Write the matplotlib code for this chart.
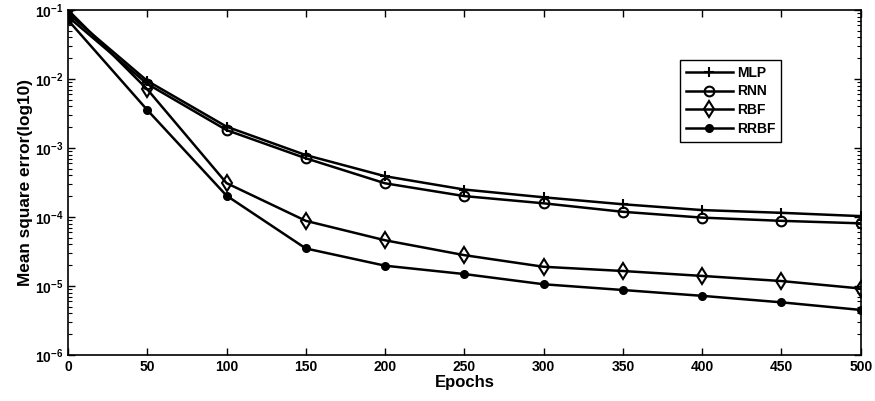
import matplotlib

matplotlib.use("Agg")
import matplotlib.pyplot as plt
from matplotlib import font_manager

# drop the condensed variants so "Liberation Sans" resolves to the regular width
font_manager.fontManager.ttflist = [
    f for f in font_manager.fontManager.ttflist if "Narrow" not in f.fname
]

plt.rcParams["font.family"] = ["Liberation Sans", "DejaVu Sans"]
plt.rcParams["font.weight"] = "bold"
plt.rcParams["mathtext.fontset"] = "custom"
plt.rcParams["mathtext.rm"] = "Liberation Sans:bold"
plt.rcParams["mathtext.default"] = "rm"

epochs = [0, 50, 100, 150, 200, 250, 300, 350, 400, 450, 500]
mlp = [0.089, 9.4e-3, 2.04e-3, 7.9e-4, 3.9e-4, 2.5e-4, 1.93e-4, 1.53e-4, 1.26e-4, 1.15e-4, 1.03e-4]
rnn = [0.080, 8.5e-3, 1.82e-3, 7.1e-4, 3.08e-4, 2.01e-4, 1.58e-4, 1.19e-4, 9.8e-5, 8.8e-5, 8.1e-5]
rbf = [0.100, 7.1e-3, 3.1e-4, 8.8e-5, 4.6e-5, 2.8e-5, 1.9e-5, 1.65e-5, 1.4e-5, 1.18e-5, 9.2e-6]
rrbf = [0.0716, 3.56e-3, 2.04e-4, 3.5e-5, 1.97e-5, 1.49e-5, 1.06e-5, 8.75e-6, 7.2e-6, 5.8e-6, 4.5e-6]

fig = plt.figure(figsize=(8.75, 4.01), dpi=100)
ax = fig.add_axes([0.0777, 0.1147, 0.906, 0.8603])

style = dict(color="black", linewidth=1.8, markeredgewidth=1.5)
ax.semilogy(epochs, mlp, marker="+", markersize=7, label="MLP", **style)
ax.semilogy(epochs, rnn, marker="o", markersize=7, markerfacecolor="none", label="RNN", **style)
ax.semilogy(epochs, rbf, marker="d", markersize=8, markerfacecolor="none", label="RBF", **style)
ax.semilogy(epochs, rrbf, marker="o", markersize=5, label="RRBF", **style)

ax.set_xlim(0, 500)
ax.set_ylim(1e-6, 1e-1)
ax.set_xticks(epochs)
ax.tick_params(which="both", direction="in", top=True, right=True, labelsize=10)
ax.tick_params(which="major", length=5, width=1)
ax.tick_params(which="minor", length=3, width=0.8)
for spine in ax.spines.values():
    spine.set_linewidth(1.2)

ax.set_xlabel("Epochs", fontsize=12, fontweight="bold", labelpad=1)
ax.set_ylabel("Mean square error(log10)", fontsize=12.4, fontweight="bold", labelpad=1)

leg = ax.legend(loc="upper left", bbox_to_anchor=(0.772, 0.855), fancybox=False,
                framealpha=1, edgecolor="black", fontsize=10, handlelength=3.4,
                borderpad=0.4, labelspacing=0.35, handletextpad=0.3, borderaxespad=0)
leg.get_frame().set_linewidth(1.0)

fig.savefig("out.png", dpi=100)
